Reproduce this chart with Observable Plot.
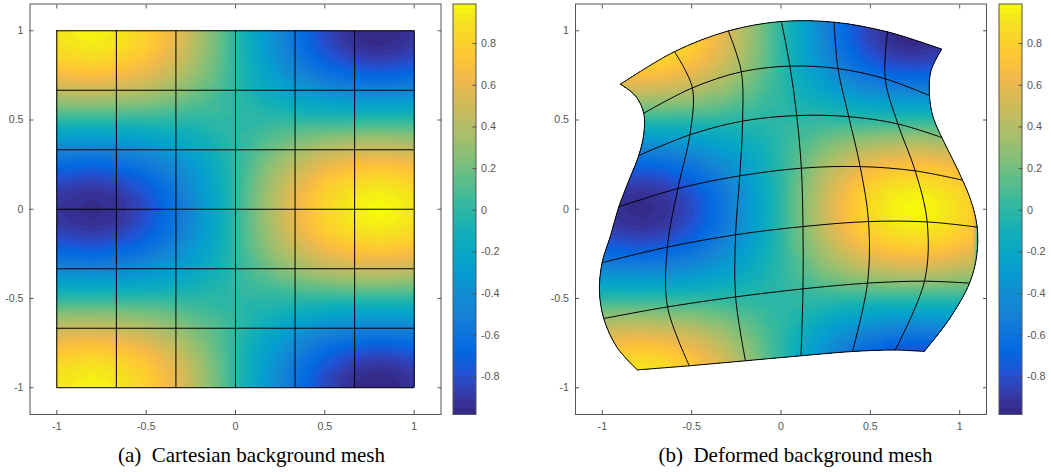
<!DOCTYPE html>
<html>
<head>
<meta charset="utf-8">
<script src="https://cdn.jsdelivr.net/npm/d3@7"></script>
<script src="https://cdn.jsdelivr.net/npm/@observablehq/plot@0.6"></script>
<style>
html,body{margin:0;padding:0;background:#fff;width:1051px;height:472px;overflow:hidden}
#root{position:relative;width:1051px;height:472px}
.slot{position:absolute;top:0}
.cap{position:absolute;top:443px;font-family:"Liberation Serif",serif;font-size:21px;line-height:24px;color:#000;white-space:pre;transform:translateX(-50%)}
</style>
</head>
<body>
<div id="root"></div>
<script>
// Field. Columns are the x positions of each panel; rows run from the top down to y = 0
// and the picture is mirrored about y = 0.
const fieldXa = [-1.15,-1,-0.9,-0.8,-0.667,-0.5,-0.333,-0.167,0,0.167,0.333,0.5,0.667,0.8,0.9,1,1.15];
const fieldXb = [-1.15,-0.98,-0.88,-0.78,-0.65,-0.49,-0.33,-0.165,0,0.16,0.31,0.465,0.62,0.74,0.84,0.94,1.1];
const fieldYUpper = [1.15,1.083,1,0.917,0.833,0.75,0.667,0.583,0.5,0.417,0.333,0.25,0.167,0.083,0];
const fieldUpper = [
 [.69,.82,.85,.86,.84,.72,.53,.28,0,-.28,-.54,-.74,-.85,-.88,-.86,-.82,-.69],
 [.74,.89,.92,.94,.91,.78,.58,.30,0,-.31,-.59,-.80,-.93,-.96,-.94,-.89,-.75],
 [.77,.92,.95,.97,.94,.81,.60,.31,0,-.32,-.61,-.83,-.96,-.98,-.97,-.92,-.78],
 [.74,.89,.92,.94,.91,.78,.58,.30,0,-.31,-.59,-.80,-.93,-.96,-.94,-.89,-.75],
 [.67,.80,.82,.84,.81,.70,.52,.27,0,-.28,-.53,-.72,-.83,-.86,-.84,-.80,-.68],
 [.54,.65,.67,.69,.66,.57,.42,.22,0,-.23,-.43,-.59,-.68,-.70,-.69,-.65,-.55],
 [.39,.46,.48,.49,.47,.41,.30,.16,0,-.16,-.31,-.42,-.48,-.50,-.49,-.46,-.39],
 [.20,.24,.25,.25,.24,.21,.16,.08,0,-.08,-.16,-.21,-.25,-.26,-.25,-.24,-.20],
 [0,0,0,0,0,0,0,0,0,0,0,0,0,0,0,0,0],
 [-.20,-.24,-.25,-.25,-.24,-.21,-.16,-.08,0,.08,.16,.21,.25,.26,.25,.24,.20],
 [-.39,-.46,-.48,-.49,-.47,-.41,-.30,-.16,0,.16,.31,.42,.48,.50,.49,.46,.39],
 [-.54,-.65,-.67,-.69,-.66,-.57,-.42,-.22,0,.23,.43,.59,.68,.70,.69,.65,.55],
 [-.67,-.80,-.82,-.84,-.81,-.70,-.52,-.27,0,.28,.53,.72,.83,.86,.84,.80,.68],
 [-.74,-.89,-.92,-.94,-.91,-.78,-.58,-.30,0,.31,.59,.80,.93,.96,.94,.89,.75],
 [-.77,-.92,-.95,-.97,-.94,-.81,-.60,-.31,0,.32,.61,.83,.96,.99,.97,.92,.78]
];
// Cartesian mesh
const meshLines = [-1,-2/3,-1/3,0,1/3,2/3,1];
// Deformed mesh nodes, rows top to bottom, columns left to right
const nodeX = [
 [-.898,-.596,-.295,.002,.297,.596,.899],
 [-.768,-.496,-.222,.050,.319,.583,.831],
 [-.796,-.510,-.215,.088,.379,.654,.900],
 [-.908,-.577,-.231,.114,.443,.751,1.016],
 [-1.001,-.636,-.254,.123,.490,.818,1.098],
 [-.992,-.635,-.254,.123,.484,.803,1.055],
 [-.803,-.513,-.199,.112,.400,.639,.801]
];
const nodeY = [
 [.701,.883,.999,1.052,1.048,.994,.897],
 [.538,.680,.770,.802,.788,.731,.637],
 [.301,.417,.494,.525,.519,.478,.402],
 [.013,.116,.187,.230,.239,.215,.163],
 [-.299,-.212,-.143,-.097,-.069,-.071,-.100],
 [-.612,-.547,-.491,-.446,-.414,-.403,-.414],
 [-.900,-.877,-.849,-.821,-.797,-.789,-.797]
];
const leftEdge = [[-.898,.701],[-.814,.635],[-.768,.538],[-.768,.421],[-.796,.301],[-.852,.159],[-.908,.013],[-.954,-.149],[-1.001,-.299],[-1.016,-.457],[-.992,-.612],[-.917,-.775],[-.803,-.900]];
const rightEdge = [[.899,.897],[.839,.775],[.831,.637],[.852,.514],[.900,.402],[.960,.281],[1.016,.163],[1.063,.047],[1.098,-.100],[1.095,-.261],[1.055,-.414],[.941,-.616],[.801,-.797]];
// Axes
const axisTicks = [-1,-0.5,0,0.5,1];
const barTicks = [-0.8,-0.6,-0.4,-0.2,0,0.2,0.4,0.6,0.8];
const valueMin = -0.98, valueMax = 0.99, bandStep = 0.03;
const parula = ["#352A87","#353DAD","#2053D4","#0268E1","#0D75DC","#1481D6","#108ED2","#079CCF","#06A7C6","#0FAEB9","#25B5A9","#42BB98","#65BE86","#87BF77","#A5BE6B","#C0BC60","#D9BA56","#F1B94A","#FFC337","#FAD32A","#F5E41D","#F8FF08"];
const captions = ["(a)  Cartesian background mesh","(b)  Deformed background mesh"];

const gray = "#555";
const fontFamily = '"Liberation Sans",Arial,sans-serif';
const colorScale = {type:"linear",domain:[valueMin,valueMax],interpolate:d3.piecewise(d3.interpolateRgb,parula),clamp:true};
const fieldY = fieldYUpper.concat(fieldYUpper.slice(0,-1).reverse().map(y=>-y));
const fieldValues = fieldUpper.concat(fieldUpper.slice(0,-1).reverse());
const pointsFor = xs => fieldY.flatMap((y,r)=>xs.map((x,c)=>({x,y,v:fieldValues[r][c]})));
const bands = [-1.2].concat(d3.range(valueMin,valueMax,bandStep));
const fmt = d=>String(d);

let clipCount = 0;
function clipRender(edges){
  return function(index,scales,values,dimensions,context,next){
    const g = next(index,scales,values,dimensions,context);
    const line = d3.line().curve(d3.curveCatmullRom);
    const d = edges.map(e=>line(e.map(p=>[scales.x(p[0]),scales.y(p[1])]))).join("").replace(/M/g,(m,o)=>o?"L":"M");
    const id = "fieldclip"+(++clipCount);
    const clip = d3.create("svg:clipPath").attr("id",id);
    clip.append("path").attr("d",d);
    g.appendChild(clip.node());
    g.setAttribute("clip-path",`url(#${id})`);
    return g;
  };
}
function frameAxes(){
  return [
    Plot.frame({stroke:gray,strokeWidth:1}),
    Plot.axisX(axisTicks,{anchor:"bottom",tickSize:-4,tickPadding:12,tickFormat:fmt,stroke:gray,fill:gray,fontSize:10.6,label:null}),
    Plot.axisX(axisTicks,{anchor:"top",tickSize:-4,tickFormat:()=>"",stroke:gray,label:null}),
    Plot.axisY(axisTicks,{anchor:"left",tickSize:-4,tickPadding:10.5,tickFormat:fmt,stroke:gray,fill:gray,fontSize:10.6,label:null}),
    Plot.axisY(axisTicks,{anchor:"right",tickSize:-4,tickFormat:()=>"",stroke:gray,label:null})
  ];
}
function panel(points,edges,meshMarks,marginLeft){
  return Plot.plot({
    width:445,height:450,marginLeft,marginRight:34-marginLeft,marginTop:3.5,marginBottom:36,
    style:{fontFamily,background:"transparent",overflow:"visible"},
    x:{domain:[-1.15,1.15]},y:{domain:[-1.15,1.15]},color:colorScale,
    marks:[
      Plot.contour(points,{x:"x",y:"y",fill:"v",thresholds:bands,interpolate:"barycentric",pixelSize:1,blur:2,stroke:"none",render:clipRender(edges)}),
      ...meshMarks,
      ...frameAxes()
    ]
  });
}
function colorbar(){
  return Plot.plot({
    width:60,height:450,marginLeft:7.5,marginRight:29.5,marginTop:3.5,marginBottom:36,
    style:{fontFamily,background:"transparent",overflow:"visible"},
    x:{domain:[0,1],axis:null},y:{domain:[valueMin,valueMax]},color:colorScale,
    marks:[
      Plot.rect(bands.slice(1),{x1:0,x2:1,y1:d=>d,y2:d=>Math.min(d+bandStep,valueMax),fill:d=>d,shapeRendering:"crispEdges"}),
      Plot.frame({stroke:gray,strokeWidth:1}),
      Plot.axisY(barTicks,{anchor:"right",tickSize:-4,tickPadding:9,tickFormat:fmt,stroke:gray,fill:gray,fontSize:10.8,label:null})
    ]
  });
}

// Panel (a)
const squareEdges = [[[-1,1],[1,1]],[[1,1],[1,-1]],[[1,-1],[-1,-1]],[[-1,-1],[-1,1]]];
const meshA = [
  Plot.ruleX(meshLines,{x:d=>d,y1:-1,y2:1,stroke:"#000",strokeWidth:1}),
  Plot.ruleY(meshLines,{y:d=>d,x1:-1,x2:1,stroke:"#000",strokeWidth:1})
];
// Panel (b)
const pick = (r,c)=>[nodeX[r][c],nodeY[r][c]];
const idx = [0,1,2,3,4,5,6];
const topEdge = idx.map(c=>pick(0,c));
const botEdge = idx.map(c=>pick(6,c));
const curves = [leftEdge,rightEdge,topEdge,botEdge];
for (const r of [1,2,3,4,5]) curves.push(idx.map(c=>pick(r,c)));
for (const c of [1,2,3,4,5]) curves.push(idx.map(r=>pick(r,c)));
const curvePoints = curves.flatMap((pts,id)=>pts.map(p=>({id,x:p[0],y:p[1]})));
const meshB = [Plot.line(curvePoints,{x:"x",y:"y",z:"id",curve:"catmull-rom",stroke:"#000",strokeWidth:1})];
const outlineB = [topEdge,rightEdge,botEdge.slice().reverse(),leftEdge.slice().reverse()];

const root = document.getElementById("root");
function place(node,left){
  const d = document.createElement("div");
  d.className = "slot"; d.style.left = left+"px";
  d.appendChild(node); root.appendChild(d);
}
place(panel(pointsFor(fieldXa),squareEdges,meshA,29.5),0);
place(colorbar(),445);
place(panel(pointsFor(fieldXb),outlineB,meshB,29),546);
place(colorbar(),991);
[[captions[0],251.5],[captions[1],795.5]].forEach(([t,x])=>{
  const c = document.createElement("div");
  c.className = "cap"; c.textContent = t; c.style.left = x+"px";
  root.appendChild(c);
});
</script>
</body>
</html>
